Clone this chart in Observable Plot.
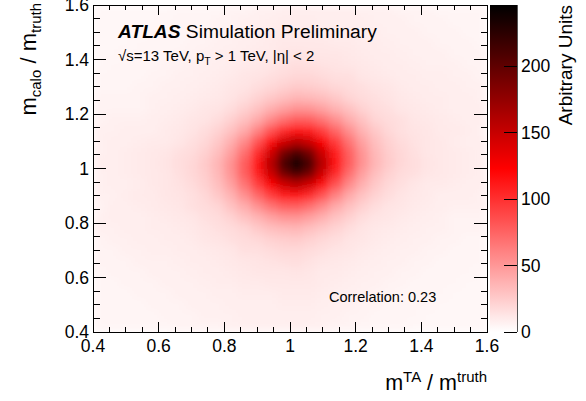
<!DOCTYPE html>
<html><head><meta charset="utf-8">
<script src="https://cdn.jsdelivr.net/npm/d3@7"></script>
<script src="https://cdn.jsdelivr.net/npm/@observablehq/plot@0.6"></script>
<style>body{margin:0;background:#fff}#chart{width:586px;height:401px}</style>
</head><body><div id="chart"></div>
<script>
// ---- data (0.04-wide bins) ----
const xEdges = [0.40,0.44,0.48,0.52,0.56,0.60,0.64,0.68,0.72,0.76,0.80,0.84,0.88,0.92,0.96,1.00,1.04,1.08,1.12,1.16,1.20,1.24,1.28,1.32,1.36,1.40,1.44,1.48,1.52,1.56,1.60];
const yEdges = [1.60,1.56,1.52,1.48,1.44,1.40,1.36,1.32,1.28,1.24,1.20,1.16,1.12,1.08,1.04,1.00,0.96,0.92,0.88,0.84,0.80,0.76,0.72,0.68,0.64,0.60,0.56,0.52,0.48,0.44,0.40];
// rows from top (y = 1.60) to bottom (y = 0.40), columns from x = 0.40 to 1.60
const counts = [
 [4,4,4,4,4,4,5,5,5,5,6,6,7,7,8,8,8,8,8,8,7,7,7,6,6,6,5,5,5,5],
 [4,4,4,4,4,5,5,5,5,6,6,7,7,8,9,9,9,8,8,8,8,7,7,7,6,6,6,5,5,5],
 [4,4,4,4,5,5,5,5,6,6,7,7,8,9,10,10,10,9,9,9,8,8,7,7,7,6,6,6,5,5],
 [4,4,4,5,5,5,5,6,6,7,7,8,9,10,11,11,11,11,10,10,9,9,8,7,7,7,6,6,6,5],
 [4,4,5,5,5,5,6,6,7,7,8,9,10,10,12,13,12,12,12,11,10,9,9,8,7,7,7,6,6,6],
 [4,5,5,5,5,6,6,7,7,8,9,10,11,12,14,16,15,14,13,12,11,10,9,9,8,7,7,7,6,6],
 [5,5,5,5,6,6,7,7,8,9,10,12,13,15,17,19,19,17,15,15,12,11,10,9,9,8,8,7,7,6],
 [5,5,5,6,6,7,7,8,9,10,12,13,16,19,22,25,24,22,19,17,15,13,12,10,9,9,8,8,7,7],
 [6,6,6,6,7,7,8,9,10,11,13,16,21,26,31,35,34,31,26,20,17,15,13,11,10,9,9,8,8,7],
 [6,6,6,6,7,8,9,10,12,13,16,22,29,38,46,52,51,45,36,29,21,17,15,12,11,10,9,8,8,8],
 [6,7,7,7,8,9,10,12,13,16,22,30,41,56,69,78,76,67,53,39,29,20,17,15,12,11,10,9,8,8],
 [7,7,8,8,8,10,11,13,16,21,29,41,60,83,103,112,110,94,73,53,36,26,19,15,13,12,10,10,9,7],
 [7,8,8,9,10,10,12,15,19,26,38,56,83,115,144,158,146,124,94,67,45,31,22,17,14,12,11,9,8,8],
 [7,8,9,10,11,12,15,17,22,31,46,69,103,144,190,212,190,146,110,76,51,34,24,19,15,12,11,10,9,8],
 [8,8,9,10,11,13,16,19,25,35,52,78,112,158,212,244,212,158,112,78,52,35,25,19,16,13,11,10,9,8],
 [7,8,9,10,11,12,15,19,24,34,51,76,110,146,190,212,190,144,103,69,46,31,22,17,15,12,11,10,9,8],
 [7,8,8,9,11,12,14,17,22,31,45,67,94,124,146,158,144,115,83,56,38,26,19,15,12,10,10,9,8,8],
 [7,7,9,10,10,12,13,15,19,26,36,53,73,94,110,112,103,83,60,41,29,21,16,13,11,10,8,8,8,7],
 [6,8,8,9,10,11,12,15,17,20,29,39,53,67,76,78,69,56,41,30,22,16,13,12,10,9,8,7,7,7],
 [7,8,8,8,9,10,11,12,15,17,21,29,36,45,51,52,46,38,29,22,16,13,12,10,9,8,7,6,6,6],
 [7,7,8,8,9,9,10,11,13,15,17,20,26,31,34,35,31,26,21,16,13,11,10,9,8,7,7,6,6,6],
 [6,7,7,8,8,9,9,10,12,13,15,17,19,22,24,25,22,19,16,13,12,10,9,8,7,7,6,6,5,5],
 [6,6,7,7,8,8,9,9,10,11,12,15,15,17,19,19,17,15,13,12,10,9,8,7,7,6,6,5,5,5],
 [6,6,6,7,7,7,8,9,9,10,11,12,13,14,15,16,14,12,11,10,9,8,7,7,6,6,5,5,5,5],
 [5,6,6,6,7,7,7,8,9,9,10,11,12,12,12,13,12,10,10,9,8,7,7,6,6,5,5,5,5,4],
 [5,5,6,6,6,7,7,7,8,9,9,10,10,11,11,11,11,10,9,8,7,7,6,6,5,5,5,5,4,4],
 [5,5,5,6,6,6,7,7,7,8,8,9,9,9,10,10,10,9,8,7,7,6,6,5,5,5,5,4,4,4],
 [5,5,5,5,6,6,6,7,7,7,8,8,8,8,9,9,9,8,7,7,6,6,5,5,5,5,4,4,4,4],
 [5,5,5,5,5,6,6,6,7,7,7,8,8,8,8,8,8,7,7,6,6,5,5,5,5,4,4,4,4,4],
 [5,5,5,5,5,5,6,6,6,6,7,7,7,7,7,8,7,7,6,6,5,5,5,5,4,4,4,4,4,4]
];
const xTicks = [0.4,0.6,0.8,1.0,1.2,1.4,1.6];
const yTicks = [0.4,0.6,0.8,1.0,1.2,1.4,1.6];
const xTickLabels = ["0.4","0.6","0.8","1","1.2","1.4","1.6"];
const yTickLabels = ["0.4","0.6","0.8","1","1.2","1.4","1.6"];
const minorStep = 0.05;
const zTicks = [0,50,100,150,200];
const zMax = 246;
const correlation = "0.23";

(function () {
const FONT = '"Liberation Sans", Arial, Helvetica, sans-serif';

const cells = [];
counts.forEach((row, r) => row.forEach((v, c) => cells.push({x1: xEdges[c], x2: xEdges[c+1], y1: yEdges[r+1], y2: yEdges[r], v})));

const plot = Plot.plot({
  width: 586, height: 401,
  marginLeft: 93, marginRight: 99, marginTop: 5, marginBottom: 69,
  style: {fontFamily: FONT, background: "white", overflow: "visible"},
  x: {domain: [0.4, 1.6], axis: null},
  y: {domain: [0.4, 1.6], axis: null},
  color: {type: "linear", domain: [0, zMax/2, zMax], range: ["#ffffff", "#ff0000", "#000000"], clamp: true},
  marks: [
    Plot.rect(cells, {x1: "x1", x2: "x2", y1: "y1", y2: "y2", fill: "v", shapeRendering: "crispEdges", clip: true}),
    Plot.frame({stroke: "#000", strokeWidth: 1})
  ]
});
document.getElementById("chart").appendChild(plot);

const svg = d3.select(plot);
const xs = plot.scale("x"), ys = plot.scale("y"), cs = plot.scale("color");
const X = v => xs.apply(v), Y = v => ys.apply(v);
const fL = X(0.4), fR = X(1.6), fT = Y(1.6), fB = Y(0.4);
const isMajor = v => Math.abs(v / 0.2 - Math.round(v / 0.2)) < 1e-6;

// soften the bin edges of the histogram image
const defs = svg.append("defs");
defs.append("filter").attr("id", "soft").attr("x", "-3%").attr("y", "-3%").attr("width", "106%").attr("height", "106%")
  .append("feGaussianBlur").attr("stdDeviation", 4).attr("edgeMode", "duplicate");
svg.select('g[aria-label="rect"]').attr("filter", "url(#soft)");

const g = svg.append("g").attr("stroke", "#000").attr("stroke-width", 1).attr("shape-rendering", "crispEdges");
const minors = d3.range(0.4, 1.6 + 1e-9, minorStep);
for (const v of minors) {
  const lx = isMajor(v) ? 10 : 5, ly = isMajor(v) ? 13 : 6.5;
  g.append("line").attr("x1", X(v)).attr("x2", X(v)).attr("y1", fB).attr("y2", fB - lx);
  g.append("line").attr("x1", X(v)).attr("x2", X(v)).attr("y1", fT).attr("y2", fT + lx);
  g.append("line").attr("y1", Y(v)).attr("y2", Y(v)).attr("x1", fL).attr("x2", fL + ly);
  g.append("line").attr("y1", Y(v)).attr("y2", Y(v)).attr("x1", fR).attr("x2", fR - ly);
}

const t = svg.append("g").attr("font-family", FONT).attr("fill", "#000").attr("text-anchor", "start");
xTicks.forEach((v, i) => t.append("text").attr("x", X(v)).attr("y", 352).attr("text-anchor", "middle").attr("font-size", 17.5).text(xTickLabels[i]));
yTicks.forEach((v, i) => t.append("text").attr("x", 89).attr("y", Y(v)).attr("dy", "0.35em").attr("text-anchor", "end").attr("font-size", 17.5).text(yTickLabels[i]));

// axis titles
const xt = t.append("text").attr("x", fR).attr("y", 390).attr("text-anchor", "end").attr("font-size", 21.5);
xt.append("tspan").text("m");
xt.append("tspan").attr("font-size", 15).attr("dy", -8).text("TA");
xt.append("tspan").attr("dy", 8).text(" / m");
xt.append("tspan").attr("font-size", 15).attr("dy", -8).text("truth");

const yt = t.append("text").attr("transform", "translate(36,3) rotate(-90)").attr("text-anchor", "end").attr("font-size", 22);
yt.append("tspan").text("m");
yt.append("tspan").attr("font-size", 15).attr("dy", 5).text("calo");
yt.append("tspan").attr("dy", -5).text(" / m");
yt.append("tspan").attr("font-size", 15).attr("dy", 5).text("truth");

// ATLAS labels
const a1 = t.append("text").attr("x", 118).attr("y", 38).attr("font-size", 19.2);
a1.append("tspan").attr("font-weight", "bold").attr("font-style", "italic").text("ATLAS");
a1.append("tspan").text(" Simulation Preliminary");
const a2 = t.append("text").attr("x", 118).attr("y", 61).attr("font-size", 15);
a2.append("tspan").text("\u221As=13 TeV, p");
a2.append("tspan").attr("font-size", 10.5).attr("dy", 4).text("T");
a2.append("tspan").attr("dy", -4).text(" > 1 TeV, |\u03B7| < 2");
t.append("text").attr("x", 329).attr("y", 302).attr("font-size", 14.5).text("Correlation: " + correlation);

// colour bar
const cbX0 = 490, cbX1 = 517;
const zScale = d3.scaleLinear().domain([0, zMax]).range([fB, fT]);
const grad = defs.append("linearGradient").attr("id", "cbgrad").attr("x1", 0).attr("x2", 0).attr("y1", 1).attr("y2", 0);
d3.range(0, zMax + 0.001, zMax / 40).forEach(v => grad.append("stop").attr("offset", v / zMax).attr("stop-color", cs.apply(v)));
svg.append("rect").attr("x", cbX0).attr("y", fT).attr("width", cbX1 - cbX0).attr("height", fB - fT).attr("fill", "url(#cbgrad)");
const cb = svg.append("g").attr("stroke", "#000").attr("shape-rendering", "crispEdges");
cb.append("line").attr("x1", cbX1).attr("x2", cbX1).attr("y1", fT).attr("y2", fB).attr("stroke", "#555");
zTicks.forEach(v => {
  cb.append("line").attr("x1", cbX1).attr("x2", cbX1 - 13).attr("y1", zScale(v)).attr("y2", zScale(v));
  t.append("text").attr("x", 521).attr("y", zScale(v)).attr("dy", "0.35em").attr("font-size", 17.5).text(String(v));
});
t.append("text").attr("transform", "translate(572,5) rotate(-90)").attr("text-anchor", "end").attr("font-size", 19).text("Arbitrary Units");
})();
</script></body></html>
